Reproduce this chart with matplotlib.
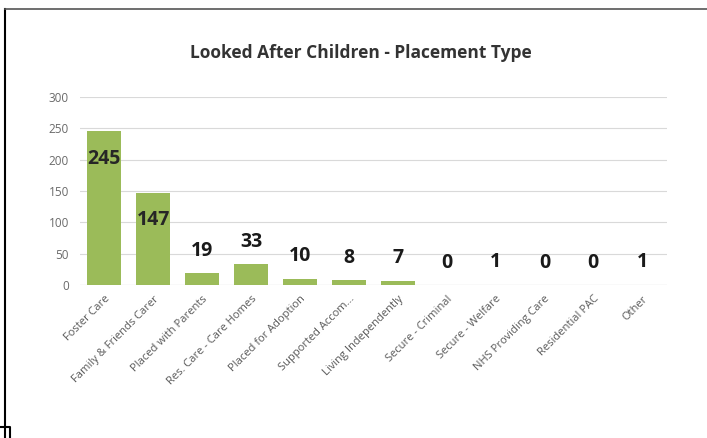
import numpy as np
import matplotlib.pyplot as plt
from matplotlib.lines import Line2D

categories = ["Foster Care", "Family & Friends Carer", "Placed with Parents",
              "Res. Care - Care Homes", "Placed for Adoption", "Supported Accom...",
              "Living Independently", "Secure - Criminal", "Secure - Welfare",
              "NHS Providing Care", "Residential PAC", "Other"]
values = [245, 147, 19, 33, 10, 8, 7, 0, 1, 0, 0, 1]
yticks = [0, 50, 100, 150, 200, 250, 300]

plt.rcParams['font.family'] = ['Open Sans', 'DejaVu Sans']

fig = plt.figure(figsize=(7.07, 4.38), dpi=100)
ax = fig.add_axes([0.113, 0.349, 0.830, 0.430])

x = np.arange(len(categories))
ax.bar(x, values, width=0.7, color="#9bbb59", zorder=3)

# data labels: inside the tall bars, above the short ones
for xi, v in zip(x, values):
    if v > 100:
        ax.text(xi, v - 44, str(v), ha="center", va="center", fontsize=14,
                fontweight="bold", color="#262626", zorder=4)
    else:
        ax.text(xi, v + 36, str(v), ha="center", va="center", fontsize=14,
                fontweight="bold", color="#1a1a1a", zorder=4)

ax.set_xlim(-0.5, len(categories) - 0.5)
ax.set_ylim(0, 300)
ax.set_yticks(yticks)
ax.set_yticklabels([str(t) for t in yticks], fontsize=8.5, color="#6a6a6a")
ax.set_xticks(x)
ax.set_xticklabels(categories, rotation=45, ha="right", rotation_mode="anchor",
                   fontsize=8, color="#595959")
ax.tick_params(axis="both", length=0, pad=8)
ax.tick_params(axis="x", pad=6)
ax.grid(axis="y", color="#d9d9d9", linewidth=0.8, zorder=0)
for s in ax.spines.values():
    s.set_visible(False)
ax.axhline(0, color="#d0d0d0", linewidth=0.8, zorder=2)

fig.text(0.51, 0.88, "Looked After Children - Placement Type", ha="center",
         va="center", fontsize=12.5, fontweight="bold", color="#333333")

# chart frame
fig.add_artist(Line2D([0.007, 0.007], [0.0, 0.98], color="black", linewidth=1.5))
fig.add_artist(Line2D([0.007, 1.0], [0.98, 0.98], color="#555555", linewidth=1.2))
fig.add_artist(Line2D([0.0, 0.014, 0.014], [0.025, 0.025, 0.0], color="black", linewidth=1.5))

plt.savefig("out.png", dpi=100)
